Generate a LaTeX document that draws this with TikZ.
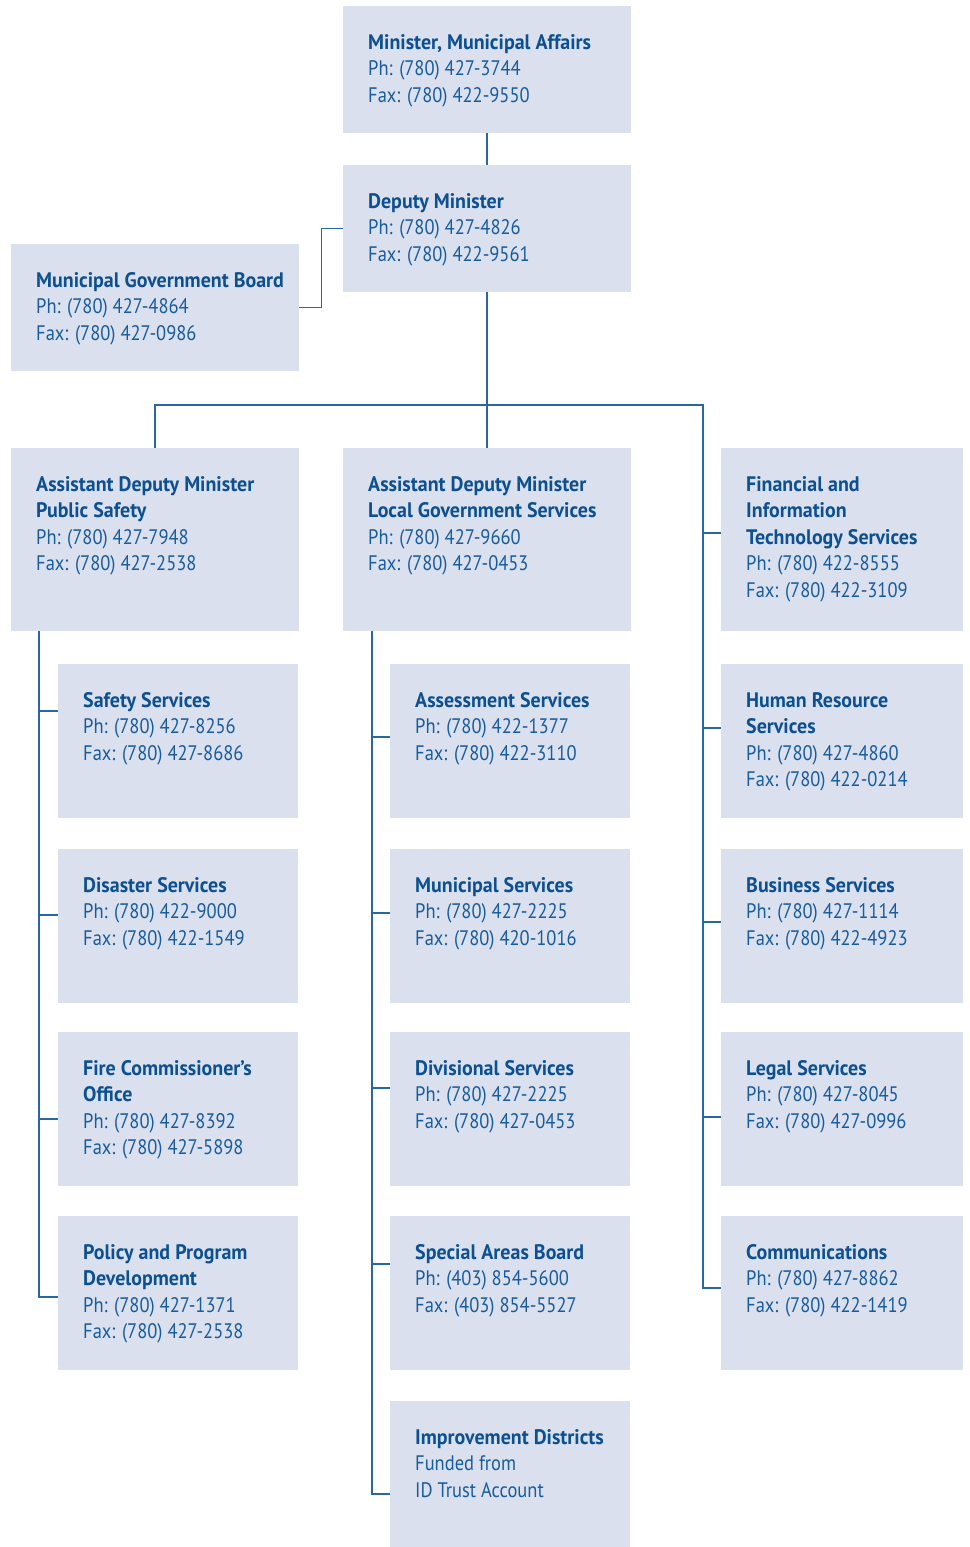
\documentclass[tikz,border=0pt]{standalone}
\usepackage{fontspec}
\setmainfont{PT Sans}[FakeStretch=0.88, BoldFeatures={FakeStretch=0.95}]
\usepackage{tikz}
\usetikzlibrary{positioning}
\definecolor{boxfill}{RGB}{218,224,238}
\definecolor{ink}{RGB}{24,92,158}
\definecolor{head}{RGB}{12,80,145}
\definecolor{wire}{RGB}{42,102,162}
\newcommand{\hd}[1]{{\bfseries\color{head}#1}}
\tikzset{
    unit/.style = {rectangle, fill=boxfill, inner sep=0pt, anchor=north west},
    txt/.style = {anchor=north west, align=left, inner sep=0pt, text=ink, xshift=25pt, yshift=-28pt,
                  font=\fontsize{21}{26.5}\selectfont},
    edgen/.style = {line width=1.5pt, draw=wire},
}
\begin{document}
\begin{tikzpicture}[x=1pt,y=-1pt]
\useasboundingbox (0,0) rectangle (969,1547);
%
\node[unit, minimum width=288, minimum height=127, label={[txt]north west:{\hd{Minister, Municipal Affairs}\\Ph: (780) 427-3744\\Fax: (780) 422-9550}}] at (343,6) (mma) {};
\node[unit, minimum width=288, minimum height=127, label={[txt]north west:{\hd{Deputy Minister}\\Ph: (780) 427-4826\\Fax: (780) 422-9561}}] at (343,165) (dm) {};
\node[unit, minimum width=288, minimum height=127, label={[txt]north west:{\hd{Municipal Government Board}\\Ph: (780) 427-4864\\Fax: (780) 427-0986}}] at (11,244) (mgb) {};
%
\node[unit, minimum width=288, minimum height=183, label={[txt]north west:{\hd{Assistant Deputy Minister}\\\hd{Public Safety}\\Ph: (780) 427-7948\\Fax: (780) 427-2538}}] at (11,448) (adps) {};
\node[unit, minimum width=288, minimum height=183, label={[txt]north west:{\hd{Assistant Deputy Minister}\\\hd{Local Government Services}\\Ph: (780) 427-9660\\Fax: (780) 427-0453}}] at (343,448) (adlg) {};
\node[unit, minimum width=242, minimum height=183, label={[txt]north west:{\hd{Financial and}\\\hd{Information}\\\hd{Technology Services}\\Ph: (780) 422-8555\\Fax: (780) 422-3109}}] at (721,448) (fits) {};
%
\node[unit, minimum width=240, minimum height=154, label={[txt]north west:{\hd{Safety Services}\\Ph: (780) 427-8256\\Fax: (780) 427-8686}}] at (58,664) (safety) {};
\node[unit, minimum width=240, minimum height=154, label={[txt]north west:{\hd{Disaster Services}\\Ph: (780) 422-9000\\Fax: (780) 422-1549}}] at (58,849) (disaster) {};
\node[unit, minimum width=240, minimum height=154, label={[txt]north west:{\hd{Fire Commissioner’s}\\\hd{Office}\\Ph: (780) 427-8392\\Fax: (780) 427-5898}}] at (58,1032) (fire) {};
\node[unit, minimum width=240, minimum height=154, label={[txt]north west:{\hd{Policy and Program}\\\hd{Development}\\Ph: (780) 427-1371\\Fax: (780) 427-2538}}] at (58,1216) (policy) {};
%
\node[unit, minimum width=240, minimum height=154, label={[txt]north west:{\hd{Assessment Services}\\Ph: (780) 422-1377\\Fax: (780) 422-3110}}] at (390,664) (assess) {};
\node[unit, minimum width=240, minimum height=154, label={[txt]north west:{\hd{Municipal Services}\\Ph: (780) 427-2225\\Fax: (780) 420-1016}}] at (390,849) (munis) {};
\node[unit, minimum width=240, minimum height=154, label={[txt]north west:{\hd{Divisional Services}\\Ph: (780) 427-2225\\Fax: (780) 427-0453}}] at (390,1032) (divis) {};
\node[unit, minimum width=240, minimum height=154, label={[txt]north west:{\hd{Special Areas Board}\\Ph: (403) 854-5600\\Fax: (403) 854-5527}}] at (390,1216) (sab) {};
\node[unit, minimum width=240, minimum height=146, label={[txt]north west:{\hd{Improvement Districts}\\Funded from\\ID Trust Account}}] at (390,1401) (idist) {};
%
\node[unit, minimum width=242, minimum height=154, label={[txt]north west:{\hd{Human Resource}\\\hd{Services}\\Ph: (780) 427-4860\\Fax: (780) 422-0214}}] at (721,664) (hr) {};
\node[unit, minimum width=242, minimum height=154, label={[txt]north west:{\hd{Business Services}\\Ph: (780) 427-1114\\Fax: (780) 422-4923}}] at (721,849) (bus) {};
\node[unit, minimum width=242, minimum height=154, label={[txt]north west:{\hd{Legal Services}\\Ph: (780) 427-8045\\Fax: (780) 427-0996}}] at (721,1032) (legal) {};
\node[unit, minimum width=242, minimum height=154, label={[txt]north west:{\hd{Communications}\\Ph: (780) 427-8862\\Fax: (780) 422-1419}}] at (721,1216) (comm) {};
%
\coordinate (split) at (487,405);
\coordinate (rt) at (703,405);
%
\draw[edgen] (mma) -- (dm);
\draw[edgen] (mgb.east) -- ++(22,0) |- (dm.west);
\draw[edgen] (dm) -- (adlg);
\draw[edgen] (adps.north) |- (split);
\draw[edgen] (split) -- (rt) |- ([yshift=5]comm.west);
\draw[edgen] ([yshift=6.5]fits.west) -- ++(-18,0);
\draw[edgen] ([yshift=13]hr.west) -- ++(-18,0);
\draw[edgen] ([yshift=4]bus.west) -- ++(-18,0);
\draw[edgen] ([yshift=-8]legal.west) -- ++(-18,0);
%
\draw[edgen] (adps.south west) ++(28,0) |- ([yshift=-4]policy.west);
\draw[edgen] ([yshift=30]safety.west) -- ++(-19,0);
\draw[edgen] ([yshift=11]disaster.west) -- ++(-19,0);
\draw[edgen] ([yshift=-10]fire.west) -- ++(-19,0);
%
\draw[edgen] (adlg.south west) ++(29,0) |- ([yshift=-20]idist.west);
\draw[edgen] ([yshift=4]assess.west) -- ++(-18,0);
\draw[edgen] ([yshift=13]munis.west) -- ++(-18,0);
\draw[edgen] ([yshift=21]divis.west) -- ++(-18,0);
\draw[edgen] ([yshift=29]sab.west) -- ++(-18,0);
\end{tikzpicture}
\end{document}
